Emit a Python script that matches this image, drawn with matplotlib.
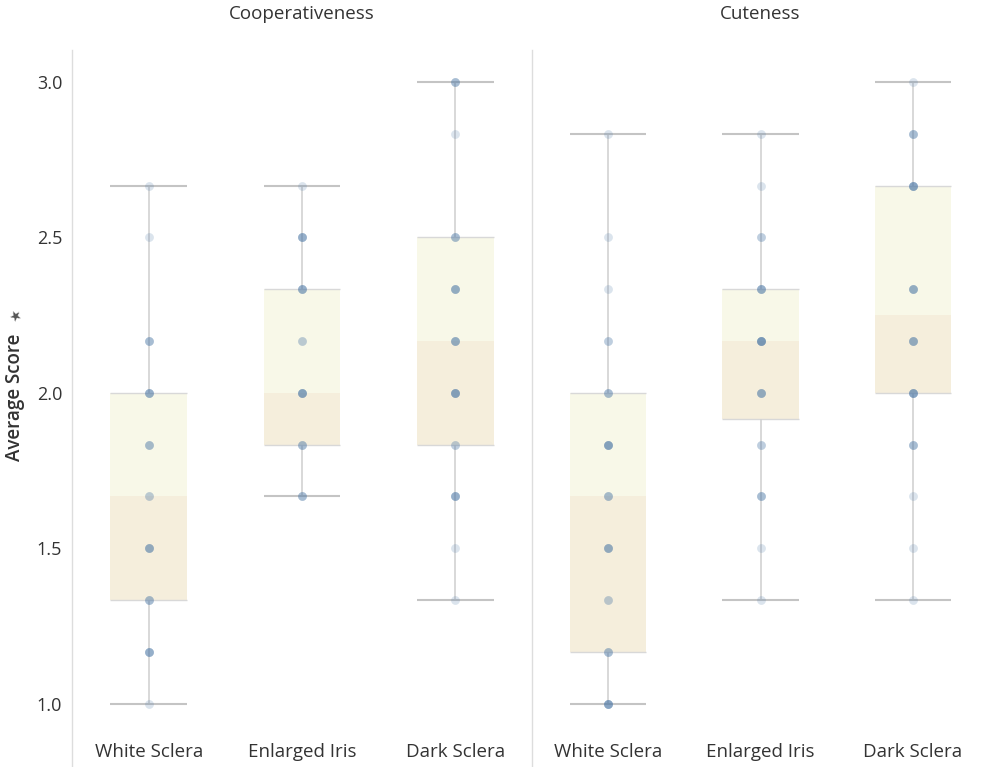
"""Box plots of average score per eye condition, split by measure."""

import matplotlib.pyplot as plt

plt.rcParams["font.family"] = ["Open Sans", "DejaVu Sans"]

measures = ["Cooperativeness", "Cuteness"]
conditions = ["White Sclera", "Enlarged Iris", "Dark Sclera"]

# box statistics, one value per condition
coop_whisker_low = [1.0, 1.667, 1.333]
coop_q1 = [1.333, 1.833, 1.833]
coop_median = [1.667, 2.0, 2.167]
coop_q3 = [2.0, 2.333, 2.5]
coop_whisker_high = [2.667, 2.667, 3.0]

cute_whisker_low = [1.0, 1.333, 1.333]
cute_q1 = [1.167, 1.917, 2.0]
cute_median = [1.667, 2.167, 2.25]
cute_q3 = [2.0, 2.333, 2.667]
cute_whisker_high = [2.833, 2.833, 3.0]

# individual participant scores: distinct values and how many share each
coop_white_scores = [2.667, 2.5, 2.167, 2.0, 1.833, 1.667, 1.5, 1.333, 1.167, 1.0]
coop_white_counts = [1, 1, 3, 4, 3, 2, 4, 3, 4, 1]
coop_iris_scores = [2.667, 2.5, 2.333, 2.167, 2.0, 1.833, 1.667]
coop_iris_counts = [1, 4, 4, 2, 5, 3, 3]
coop_dark_scores = [3.0, 2.833, 2.5, 2.333, 2.167, 2.0, 1.833, 1.667, 1.5, 1.333]
coop_dark_counts = [3, 1, 3, 4, 4, 5, 2, 4, 1, 1]

cute_white_scores = [2.833, 2.5, 2.333, 2.167, 2.0, 1.833, 1.667, 1.5, 1.333, 1.167, 1.0]
cute_white_counts = [1, 1, 1, 2, 3, 5, 3, 4, 2, 3, 5]
cute_iris_scores = [2.833, 2.667, 2.5, 2.333, 2.167, 2.0, 1.833, 1.667, 1.5, 1.333]
cute_iris_counts = [1, 1, 2, 4, 6, 4, 2, 3, 1, 1]
cute_dark_scores = [3.0, 2.833, 2.667, 2.333, 2.167, 2.0, 1.833, 1.667, 1.5, 1.333]
cute_dark_counts = [1, 3, 5, 4, 4, 5, 3, 1, 1, 1]

y_ticks = [1.0, 1.5, 2.0, 2.5, 3.0]

TEXT = "#333333"
DOT = "#4e79a7"
UPPER_FILL = "#f8f8e8"
LOWER_FILL = "#f5eedc"
LINE = "#d2d2d2"
CAP = "#c4c4c4"
BOX_W = 0.5


def draw_panel(ax, stats, points):
    low, q1, med, q3, high = stats
    for i in range(len(conditions)):
        x0, x1 = i - BOX_W / 2, i + BOX_W / 2
        ax.fill_between([x0, x1], q1[i], med[i], color=LOWER_FILL, lw=0, zorder=1)
        ax.fill_between([x0, x1], med[i], q3[i], color=UPPER_FILL, lw=0, zorder=1)
        ax.hlines([q1[i], q3[i]], x0, x1, color="#d8d8d8", lw=1.0, zorder=2)
        ax.vlines(i, q3[i], high[i], color=LINE, lw=1.2, zorder=2)
        ax.vlines(i, low[i], q1[i], color=LINE, lw=1.2, zorder=2)
        ax.hlines([low[i], high[i]], x0, x1, color=CAP, lw=1.5, zorder=2)

        scores, counts = points[i]
        xs, ys = [], []
        for s, n in zip(scores, counts):
            xs += [i] * n
            ys += [s] * n
        ax.scatter(xs, ys, s=40, color=DOT, alpha=0.2, lw=0, zorder=3)

    ax.set_xlim(-0.5, len(conditions) - 0.5)
    ax.set_ylim(0.797, 3.103)
    ax.set_xticks(range(len(conditions)))
    ax.set_xticklabels(conditions)
    ax.set_yticks(y_ticks)
    ax.tick_params(axis="x", length=0, pad=-17, labelsize=13.5, labelcolor=TEXT)
    ax.tick_params(axis="y", length=0, pad=7, labelsize=13, labelcolor=TEXT)
    for side in ["top", "right", "bottom"]:
        ax.spines[side].set_visible(False)
    ax.spines["left"].set_color("#dddddd")
    ax.spines["left"].set_linewidth(1.0)


fig = plt.figure(figsize=(9.89, 7.67), dpi=100)
left = 72 / 989
mid = 532 / 989
top = 1 - 50 / 767
ax_coop = fig.add_axes([left, 0, mid - left, top])
ax_cute = fig.add_axes([mid, 0, 1 - mid, top], sharey=ax_coop)

draw_panel(
    ax_coop,
    (coop_whisker_low, coop_q1, coop_median, coop_q3, coop_whisker_high),
    [(coop_white_scores, coop_white_counts),
     (coop_iris_scores, coop_iris_counts),
     (coop_dark_scores, coop_dark_counts)],
)
draw_panel(
    ax_cute,
    (cute_whisker_low, cute_q1, cute_median, cute_q3, cute_whisker_high),
    [(cute_white_scores, cute_white_counts),
     (cute_iris_scores, cute_iris_counts),
     (cute_dark_scores, cute_dark_counts)],
)
ax_cute.tick_params(axis="y", labelleft=False)

for ax, name in zip([ax_coop, ax_cute], measures):
    ax.text(0.5, 1 + 36 / 717, name, transform=ax.transAxes, ha="center",
            va="center", fontsize=13.5, color=TEXT)

fig.text(15 / 989, 1 - 397 / 767, "Average Score", rotation=90, ha="center",
         va="center", fontsize=13.5, color=TEXT, fontweight="semibold")
fig.text(15 / 989, 1 - 316 / 767, "\u2605", rotation=30, ha="center",
         va="center", fontsize=10, color="#555555", family="DejaVu Sans")

fig.savefig("out.png", dpi=100)
